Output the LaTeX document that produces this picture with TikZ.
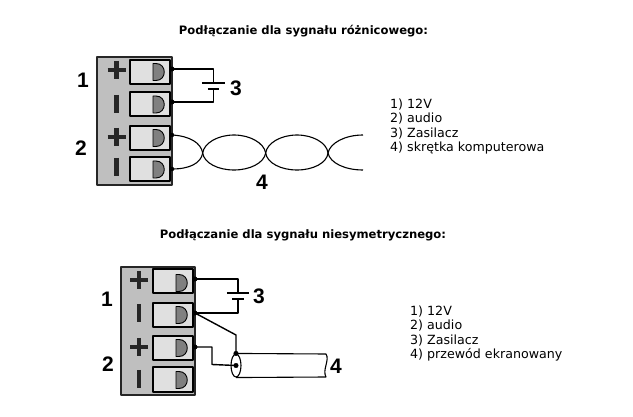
\documentclass[tikz,border=0pt]{standalone}
\usepackage{fontspec}
\usetikzlibrary{shapes.geometric}
\setmainfont{DejaVu Sans}
\newfontfamily\numfont{Liberation Sans}
\definecolor{blockgray}{gray}{0.75}
\definecolor{termgray}{gray}{0.88}
\definecolor{domegray}{gray}{0.5}
\tikzset{
  block/.style={draw=black!85,fill=blockgray,line width=1.8pt},
  term/.style={draw=black,fill=termgray,line width=2pt,minimum width=40pt,minimum height=24pt,inner sep=0pt},
  dome/.style={draw=black,fill=domegray,line width=.9pt},
  wire/.style={black,line width=1.4pt},
  twist/.style={black,line width=1.1pt},
  plate/.style={inner sep=0pt,minimum height=.1pt},
  sign/.style={black!85,line width=4.5pt},
  num/.style={font=\numfont\bfseries\fontsize{21}{21}\selectfont,inner sep=0pt},
  title/.style={font=\bfseries\fontsize{11.6}{13}\selectfont,inner sep=0pt},
  legend/.style={font=\fontsize{12.65}{14.5}\selectfont,inner sep=0pt,align=left,anchor=north west}
}
\newcommand{\dome}[2]{\filldraw[dome] (#1,#2-8.5)--(#1+3,#2-8.5) .. controls (#1+14,#2-8.5) and (#1+14,#2+8.5) .. (#1+3,#2+8.5)--(#1,#2+8.5)--cycle;}
\newcommand{\plussign}[2]{\draw[sign] (#1-9,#2)--(#1+9,#2) (#1,#2-9)--(#1,#2+9);}
\newcommand{\barsign}[2]{\draw[sign] (#1,#2-9)--(#1,#2+9);}
\begin{document}
\begin{tikzpicture}[x=1pt,y=-1pt,join=round] %two terminal blocks
         \useasboundingbox[fill=white] (0,0) rectangle (633,417);
         \node[title] (titleA) at (303.5,31) {Podłączanie dla sygnału różnicowego:};
         \node[title] (titleB) at (303,235) {Podłączanie dla sygnału niesymetrycznego:};
         % upper block
         \filldraw[block] (97,57) rectangle (172,185);
         \node[term] (a1) at (150,72) {};
         \node[term] (a2) at (150,104.5) {};
         \node[term] (a3) at (150,138) {};
         \node[term] (a4) at (150,169.5) {};
         \dome{153}{72}
         \dome{153}{104.5}
         \dome{153}{138}
         \dome{153}{169.5}
         \plussign{116.5}{70}
         \barsign{116.5}{104}
         \plussign{116.5}{137}
         \barsign{116.5}{167}
         \coordinate (a1w) at (172,69);
         \coordinate (a2w) at (172,102);
         \coordinate (a3w) at (172,135);
         \coordinate (a4w) at (172,169);
         \node[plate,minimum width=23pt] (platA) at (213.5,83) {};
         \node[plate,minimum width=11pt] (shortA) at (213.5,89) {};
         \draw[wire] (a1w)-|(platA.center);
         \draw[wire] (a2w)-|(shortA.center);
         \draw[wire] (platA.west)--(platA.east);
         \draw[wire] (shortA.west)--(shortA.east);
         \filldraw (a1w) circle (2.3pt);
         \filldraw (a2w) circle (2.3pt);
         \filldraw (a3w) circle (2pt);
         \filldraw (a4w) circle (2pt);
         % twisted pair
         \coordinate (x1) at (202.7,153);
         \coordinate (x2) at (265.7,153);
         \coordinate (x3) at (328,153);
         \draw[twist] (a3w) .. controls (190,136) and (201,143) .. (x1) .. controls (201,163) and (190,169) .. (a4w);
         \draw[twist] (x1) .. controls (204,143) and (218,135) .. (234,135) .. controls (250,135) and (264,143) .. (x2) .. controls (264,163) and (250,170) .. (234,170) .. controls (218,170) and (204,163) .. (x1);
         \draw[twist] (x2) .. controls (267,143) and (281,135) .. (297,135) .. controls (313,135) and (327,143) .. (x3) .. controls (327,163) and (313,170) .. (297,170) .. controls (281,170) and (267,163) .. (x2);
         \draw[twist] (363,135) .. controls (345,135) and (330,143) .. (x3) .. controls (330,163) and (345,170) .. (363,170);
         \node[num] (a-one) at (83,80) {1};
         \node[num] (a-two) at (81,148) {2};
         \node[num] (a-three) at (236,88) {3};
         \node[num] (a-four) at (262,182) {4};
         \node[legend] (legendA) at (390,98.5) {1) 12V\\2) audio\\3) Zasilacz\\4) skrętka komputerowa};
         % lower block
         \filldraw[block] (121,267) rectangle (195,395);
         \node[term] (b1) at (173,281.5) {};
         \node[term] (b2) at (173,315) {};
         \node[term] (b3) at (173,348.5) {};
         \node[term] (b4) at (173,379.5) {};
         \dome{176}{283}
         \dome{176}{315}
         \dome{176}{348}
         \dome{176}{380}
         \plussign{139}{280}
         \barsign{139}{313}
         \plussign{139}{347}
         \barsign{139}{379}
         \coordinate (b1w) at (195,279);
         \coordinate (b2w) at (195,313);
         \coordinate (b3w) at (195,347);
         \node[plate,minimum width=22pt] (platB) at (238,293) {};
         \node[plate,minimum width=11pt] (shortB) at (238,299) {};
         \draw[wire] (b1w)-|(platB.center);
         \draw[wire] (b2w)-|(shortB.center);
         \draw[wire] (platB.west)--(platB.east);
         \draw[wire] (shortB.west)--(shortB.east);
         % cable
         \node[draw=black,line width=1.1pt,ellipse,minimum width=10pt,minimum height=23pt,inner sep=0pt] (cable) at (236,365.5) {};
         \coordinate (cableEndT) at (326,354);
         \coordinate (cableEndB) at (326,377);
         \draw[twist] (cable.north)--(cableEndT) .. controls (330,360) and (322,370) .. (cableEndB)--(cable.south);
         \draw[wire] (b2w)--(236,335)--(cable.north);
         \draw[wire] (b3w)-|(212,364.5)--(cable.center);
         \filldraw (b1w) circle (2.3pt);
         \filldraw (b2w) circle (2.3pt);
         \filldraw (b3w) circle (2.3pt);
         \filldraw (cable.center) circle (2.3pt);
         \filldraw (cable.north) circle (2.3pt);
         \node[num] (b-one) at (107,299) {1};
         \node[num] (b-two) at (108,364) {2};
         \node[num] (b-three) at (259,296) {3};
         \node[num] (b-four) at (336,366) {4};
         \node[legend] (legendB) at (410,305.5) {1) 12V\\2) audio\\3) Zasilacz\\4) przewód ekranowany};
\end{tikzpicture}
\end{document}
